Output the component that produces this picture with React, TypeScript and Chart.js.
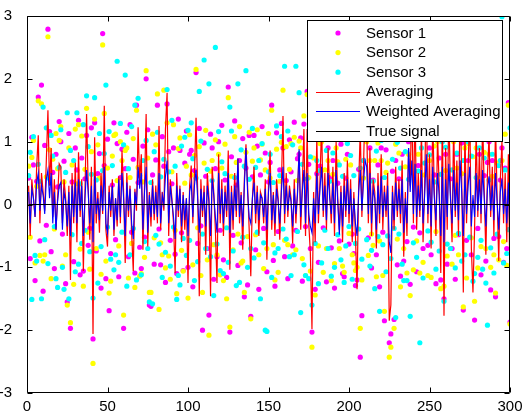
import React, { useEffect, useRef } from "react";
import { Chart, registerables } from "chart.js";

Chart.register(...registerables);

// ---- Data (one value per sample 1..300) ----
const SENSOR_1 = [
  0.42, -0.86, 1.07, 0.63, -1.21, 0.37, 1.71, -0.58, 1.9, -1.38, 0.94, -0.33, 2.79, 1.16, -0.75, 0.51, -1.02, 0.8, 0.28, 1.32,
  1.0, -0.47, 0.69, -1.26, -1.55, 1.13, -1.97, 0.36, -0.91, 0.9, 0.55, 1.34, -1.12, 0.74, -1.06, 0.41, 1.1, -0.65, -0.38, 1.22,
  -2.14, 1.3, -0.74, 0.49, 0.81, -1.33, 2.72, 0.62, -1.18, 1.04, -1.69, -0.78, 0.31, 1.3, -0.56, 0.97, -1.15, 0.43, 0.88, -1.97,
  0.57, 1.15, -0.83, 1.27, -0.44, 0.72, -1.09, 1.58, 0.35, -0.68, -1.02, 0.93, -0.52, 2.0, 1.19, -1.6, -1.62, 0.47, -0.95, 0.71,
  1.58, -0.39, -0.96, 1.08, 0.61, -1.24, 1.6, 0.84, -0.57, 0.33, 0.9, -0.79, -1.1, 1.36, 0.86, -0.45, -1.05, 0.66, 1.17, -1.0,
  0.8, 0.86, -1.31, 0.54, 2.1, -0.62, 1.21, -0.34, -2.0, 0.98, 0.45, -0.7, -1.76, 1.12, 0.9, -1.19, 0.57, -0.83, 1.0, -0.41,
  1.26, -0.88, 0.39, -1.16, 1.87, -2.03, 0.76, -0.49, 1.33, 0.31, -0.97, 0.7, -0.61, 1.05, -1.47, 0.58, -1.28, 1.1, -1.78, 0.44,
  1.1, -0.72, 0.93, -1.35, 0.47, 1.24, -0.38, 0.82, -1.07, 0.36, 0.67, 1.58, -0.89, -1.3, 1.14, -0.43, 0.55, 1.29, 0.9, -0.83,
  0.38, -1.18, 1.03, 0.52, -0.66, 1.31, -0.41, 0.73, 0.8, 1.06, -1.22, 1.28, -0.35, 1.8, 0.64, -0.7, -2.03, 1.17, -1.35, 0.49,
  -0.92, 0.61, 1.2, -0.37, 1.36, -1.23, 0.9, 0.43, -0.69, 0.7, -1.33, 1.1, 0.34, -0.58, 0.96, -1.1, -1.15, 0.42, 0.8, -0.63,
  1.09, -0.47, -0.78, -1.29, -1.2, 0.56, -2.43, -1.77, 0.7, 1.5, 1.2, -0.53, 0.9, -1.01, 0.39, 1.16, -0.8, 0.63, -1.31, 0.9,
  -0.44, -1.85, 0.87, 1.27, -2.2, -2.06, 0.53, -1.83, 0.7, -0.96, 0.41, -1.14, 0.8, -0.9, 1.23, -0.59, 1.0, -1.27, 1.6, -0.36,
  1.5, -1.07, 0.62, -0.45, 1.3, -0.7, 1.09, 1.8, -0.65, 0.9, -0.8, 1.3, 0.47, -1.26, 1.2, 0.74, -1.2, 1.4, -1.5, 0.8,
  -0.95, 1.5, 0.41, -0.7, 1.2, -1.19, 0.8, -0.48, 1.7, 0.98, -1.68, 1.1, -0.57, 0.7, 1.4, -0.8, 1.21, -1.84, 1.1, -0.38,
  0.8, -1.12, 1.3, 0.46, -0.9, 0.67, 1.0, -1.36, 0.7, -0.54, -1.47, 1.26, -0.51, 0.39, 0.9, -0.92, 0.58, -0.7, 1.62, -1.87,
];

const SENSOR_2 = [
  0.61, -0.52, 0.75, 1.02, -0.93, 0.29, 1.65, -0.81, 1.6, -0.9, -0.8, 0.44, 2.67, 0.87, -1.18, 0.72, -0.39, 1.13, 0.57, 1.02,
  1.24, -0.98, 0.36, -0.8, -1.6, 0.9, -1.88, 0.63, -1.27, 1.2, 0.33, 1.27, -0.71, 1.09, -1.3, 0.56, 1.53, -0.44, -1.03, 0.84,
  -2.53, 1.36, -0.7, 0.95, 0.42, -1.11, 2.54, 1.45, -0.9, 0.58, -1.41, -1.22, 0.77, 1.1, 1.12, 0.38, -0.66, 1.0, 0.7, -1.76,
  0.86, 0.9, -1.17, 0.43, -0.62, 1.05, -1.32, 1.5, 0.59, -1.14, -1.1, 0.36, -0.84, 2.13, 0.74, -1.4, -1.4, 1.12, -0.53, 0.95,
  1.76, -1.67, -0.61, -0.8, 1.82, -1.01, 1.3, -0.82, -1.19, 0.52, 1.27, -0.41, -1.42, 0.89, 1.06, -0.73, -1.06, 0.34, 0.61, -1.49,
  1.11, 0.47, -0.96, 0.78, 2.15, -0.37, 0.92, -1.13, -1.4, 0.66, 1.18, -0.88, -2.08, 0.53, 0.7, -0.64, 1.03, -0.8, 0.8, -1.12,
  0.58, -1.21, 0.96, -1.5, 1.7, -1.95, 0.45, -0.72, 1.08, 0.67, -0.47, 1.24, -0.93, -0.9, -1.4, 0.83, -0.51, 1.15, -1.82, 0.69,
  0.9, -0.48, 1.19, -0.8, 0.71, 0.96, -1.02, 0.55, -0.7, 1.13, 0.42, 1.5, -0.64, -1.2, 0.88, -1.08, 0.37, 0.99, 1.82, -0.57,
  0.92, -0.64, 0.56, 0.97, -0.8, 1.07, -0.72, 0.38, 1.01, 0.9, -0.86, 1.41, -1.13, 1.75, 0.43, -1.06, -2.27, 0.74, -1.44, 1.16,
  -0.66, 0.97, 1.0, -1.08, 0.55, -0.7, 0.7, 1.14, -1.21, 0.48, -0.94, 0.9, 0.68, -0.7, 1.25, -0.98, -1.08, 0.72, 1.09, -0.46,
  0.63, -0.8, -0.93, -1.05, -1.0, 1.19, -1.97, -1.2, 0.42, 1.3, 1.0, -0.81, 0.7, -0.47, -0.65, 0.7, -1.15, 0.98, -0.58, 0.7,
  -1.13, -1.7, 0.51, 0.66, -2.43, -2.27, 1.04, -1.97, 0.96, -0.55, 0.82, -1.31, 1.11, -0.7, 0.6, -1.09, 0.8, -1.45, 1.4, -1.04,
  1.3, -0.58, 0.8, -1.09, 1.1, -0.92, 0.47, 1.6, -1.13, 0.7, -1.16, 1.1, 0.93, -0.43, 1.0, 1.19, -1.34, 1.2, -1.3, 0.54,
  -0.82, 1.3, 1.06, -0.95, 1.0, -0.49, 0.58, -0.8, 1.5, 0.49, -1.63, 0.9, -1.17, 0.97, 1.2, -0.53, 0.76, -1.54, 0.9, -1.01,
  1.04, -0.67, 1.1, 0.83, -0.7, 1.18, 0.8, -1.0, 0.45, -0.8, -1.41, 0.66, -0.88, 0.7, 0.7, -0.59, 1.12, -0.97, 1.58, -1.9,
];

const SENSOR_3 = [
  0.46, 0.83, -1.51, 1.08, -0.81, -0.9, 0.64, 0.37, -1.5, 1.55, -0.56, 1.22, -0.94, 0.41, 1.1, 0.77, -0.35, -1.18, -1.32, 0.59,
  1.19, -1.0, -1.35, 0.51, 1.46, -1.5, 0.86, -0.48, 0.7, -1.07, 1.46, -0.95, 0.33, -0.62, 1.27, -0.41, 1.73, 0.92, -0.75, 0.48,
  -1.49, 1.7, 0.39, -1.25, 1.13, -0.67, 0.54, 0.81, 1.9, -0.36, 1.16, -0.87, 0.62, -1.04, -0.8, 2.28, -0.92, 1.29, -0.44, 0.95,
  2.06, -1.3, 0.57, -0.8, 1.24, -0.38, 1.58, -1.2, 1.69, 0.46, -1.12, 0.7, -0.59, 1.02, -0.7, -1.55, 0.35, -1.58, 0.84, -0.49,
  1.15, -0.63, 0.44, -1.16, 0.72, -0.76, 1.83, 0.52, -0.98, 1.34, -0.36, 0.61, -1.51, -1.13, -1.28, 0.93, -0.54, 1.07, -0.81, 1.18,
  -0.57, 1.3, 0.73, -1.21, 0.42, -0.91, 1.8, 1.01, -0.47, 2.3, -0.7, 0.56, 1.92, -0.83, 0.38, -1.45, 2.5, -0.63, 1.16, -1.05,
  0.68, -1.1, 0.49, -0.37, -0.92, 1.55, 1.17, -0.74, 0.43, -1.29, 1.92, -1.24, 0.87, -0.52, 0.61, 2.13, -1.0, 0.4, -0.7, 1.21,
  -0.85, 0.59, -0.44, 0.7, -1.5, 0.97, -0.61, -2.0, -2.02, 0.52, 0.8, -1.16, 0.35, -0.77, 1.25, -0.7, 0.46, 1.08, -0.39, 2.2,
  -0.55, 1.17, -0.83, -1.13, 0.95, -0.8, 2.2, -0.43, 1.78, -1.72, 0.64, -0.96, -1.13, 0.41, -1.18, 0.76, -1.6, 1.12, -0.62, 0.7,
  -1.26, 0.54, -0.93, 1.19, -0.41, 0.86, -0.7, 0.37, -1.14, 0.82, -1.0, 1.31, -0.48, 0.63, -0.88, 0.45, -1.24, -0.66, 0.97, -0.35,
  0.78, -1.19, 0.46, -0.62, 1.07, -0.39, 0.58, -0.87, 0.7, 1.4, -0.56, 1.23, -0.98, -0.73, 0.37, -1.34, 0.85, -0.51, -1.7, 1.02,
  -0.64, 0.43, -1.07, -0.5, 1.18, -0.86, 0.72, -0.38, -1.8, 0.99, -0.47, 0.58, -0.95, -1.21, 0.84, -1.21, 0.4, -1.78, 1.2, -0.61,
  1.1, -0.84, 0.53, -2.2, 0.9, -1.17, 0.66, 1.5, -0.42, 0.79, -0.6, 1.2, 0.36, -1.03, 1.3, -0.74, 0.48, 1.0, -1.54, 0.91,
  -0.63, 1.2, -0.7, 0.55, 1.1, -1.01, 0.82, -0.46, 1.3, -0.9, 0.7, -0.8, 1.16, 1.0, -0.52, 0.77, -1.22, -1.1, 0.43, -0.84,
  0.9, -0.57, -1.03, 0.74, -1.25, -1.92, 0.39, -0.69, 0.8, -1.09, 1.36, -0.47, 0.62, 0.7, 2.99, -0.93, 0.55, -0.78, -0.4, 1.22,
];

const AVERAGING = [
  0.3, -0.5, 0.4, 0.1, -0.2, 0.6, 1.1, -0.3, 0.5, 0.2, -0.1, 0.7, 1.5, 0.3, 0.9, -0.2, 0.4, -0.4, 0.1, 0.65,
  0.6, -0.3, 0.4, 0.1, -0.5, 0.3, -1.2, 0.5, -0.3, 0.67, -0.6, 0.83, -0.2, 0.4, -1.06, 0.2, 1.44, 0.3, -0.56, 0.6,
  -2.06, 1.07, -0.3, 0.2, -0.45, 0.5, -0.15, 1.57, -0.4, -0.67, 0.3, -0.2, 0.4, -0.5, 0.1, -0.35, 0.45, -0.3, 0.86, 0.2,
  -0.93, 0.5, -0.2, 0.3, -0.45, -1.06, 0.25, -0.1, 1.23, 0.35, 0.8, -0.72, 0.3, 1.44, -0.67, 0.2, -0.35, 0.4, -0.25, 0.3,
  -0.3, 1.25, -0.4, 0.2, -0.1, 1.2, 1.78, -0.5, 0.4, 0.1, -0.3, -1.09, 0.5, -0.2, 0.3, -0.6, 0.2, -0.4, 0.1, -1.25,
  0.3, 0.62, -0.3, 0.5, 1.38, 0.2, -1.46, 0.4, -0.2, 0.3, -0.8, 0.5, 0.1, -1.46, 0.6, 0.2, -0.4, -1.25, 0.8, -0.3,
  0.4, -0.5, 0.3, -0.2, 0.86, -1.04, 0.3, -0.4, 0.5, -0.2, 0.73, -0.3, 0.2, -0.72, 0.4, 0.96, 0.3, -0.4, -1.14, 0.1,
  0.6, -0.3, 0.3, -0.5, 0.2, 0.1, -0.3, 0.4, -0.88, 0.3, 0.86, -0.4, 0.2, -0.5, 0.4, 0.1, -0.56, 0.3, 1.41, -0.3,
  0.5, -0.2, 0.3, 0.1, -0.62, 0.4, -0.3, 0.2, 0.85, -0.4, 0.3, 1.2, -0.5, 1.2, -0.3, -0.77, -1.98, 0.2, -0.6, 1.1,
  -0.3, 0.4, 1.3, -0.2, 0.5, -0.4, 0.9, 0.2, -0.3, 0.6, -0.5, 1.0, 0.1, -0.4, 0.3, -0.6, 0.5, -0.2, 0.7, -0.3,
  0.4, -0.6, 0.2, -0.5, -1.35, 0.3, 1.2, -0.2, 0.6, 1.6, 1.3, -0.3, 0.9, -0.5, 0.4, 0.2, -0.7, 0.5, -0.3, 0.8,
  -0.4, 0.3, -0.2, 0.5, -1.85, -1.6, 0.3, -0.4, 0.6, -0.2, 0.4, -0.3, 0.7, -0.83, 0.2, -0.5, 0.9, 0.3, 1.8, -0.3,
  1.7, -0.4, 0.5, -0.2, 1.2, -0.6, 0.3, 1.9, -0.3, 0.8, -0.7, 1.4, 0.2, -0.5, 1.1, 0.3, -1.09, 1.5, -1.77, 0.9,
  -0.4, 1.6, 0.2, -0.6, 1.3, -0.2, 0.7, -0.5, 1.8, 0.4, -1.4, 1.2, -0.3, 0.6, 1.5, -0.7, -1.4, -0.4, 1.2, -0.2,
  0.9, -0.3, 1.4, 0.2, -0.8, 0.5, 1.1, -0.2, 0.6, -0.5, 1.3, 0.1, -0.9, 0.4, 1.0, -0.3, 0.5, -0.6, 0.8, -1.4,
];

const WEIGHTED_AVERAGING = [
  0.2, -0.3, 0.25, 0.1, -0.2, 0.35, 0.5, -0.1, 0.3, 0.15, -0.15, 0.4, 0.55, 0.1, 0.5, -0.3, 0.2, -0.4, 0.05, 0.3,
  0.35, -0.4, 0.2, 0.05, -0.35, 0.2, -0.5, 0.3, -0.2, 0.35, -0.3, 0.4, -0.1, 0.3, -0.5, 0.1, 0.55, 0.2, -0.3, 0.3,
  -0.6, 0.45, -0.15, 0.1, -0.25, 0.3, -0.1, 0.6, -0.3, -0.45, 0.2, -0.1, 0.3, -0.4, 0.1, -0.25, 0.4, -0.2, 0.5, 0.1,
  -0.5, 0.35, -0.1, 0.25, -0.3, -0.55, 0.2, 0.0, 0.6, 0.25, 0.5, -0.4, 0.2, 0.6, -0.45, 0.15, -0.2, 0.3, -0.15, 0.2,
  -0.2, 0.5, -0.3, 0.15, 0.0, 0.45, 0.7, -0.3, 0.3, 0.05, -0.2, -0.55, 0.3, -0.1, 0.25, -0.35, 0.15, -0.25, 0.1, -0.5,
  0.2, 0.35, -0.2, 0.3, 0.55, 0.1, -0.45, 0.25, -0.1, 0.2, -0.35, 0.3, 0.05, -0.5, 0.4, 0.15, -0.2, -0.45, 0.5, -0.15,
  0.25, -0.3, 0.2, -0.1, 0.5, -0.45, 0.2, -0.25, 0.3, -0.1, 0.73, -0.2, 0.15, -0.35, 0.3, 0.9, 0.2, -0.2, -0.3, 0.1,
  0.35, -0.15, 0.2, -0.25, 0.15, 0.1, -0.2, 0.25, -0.4, 0.2, 0.5, -0.25, 0.15, -0.3, 0.25, 0.05, -0.3, 0.2, 0.6, -0.15,
  0.3, -0.1, 0.2, 0.05, -0.35, 0.25, -0.15, 0.15, 0.88, -0.2, 0.2, 0.55, -0.3, 0.5, -0.15, -0.35, -0.45, 0.1, -0.3, 0.5,
  -0.15, 0.25, 0.6, -0.1, 0.3, -0.25, 0.5, 0.1, -0.15, 0.35, -0.3, 0.55, 0.05, -0.48, 0.2, -0.35, 0.3, -0.1, 0.4, -0.15,
  0.25, -0.35, 0.1, -0.3, -0.5, 0.2, 0.55, -0.1, 0.35, 0.7, 0.6, -0.15, 0.5, -0.3, 0.25, 0.1, -0.4, 0.3, -0.15, 0.45,
  -0.2, 0.2, -0.1, 0.3, -0.6, -0.77, 0.2, -0.25, 0.35, -0.1, 0.25, -0.15, 0.4, -0.45, 0.1, -0.3, 0.9, 0.2, 0.7, -0.15,
  0.65, -0.2, 0.3, -0.1, 0.55, -0.3, 0.15, 0.8, -0.15, 0.4, -0.35, 0.6, 0.1, -0.25, 0.5, 0.15, -0.5, 0.6, -0.6, 0.4,
  -0.2, 0.65, 0.1, -0.3, 0.55, -0.1, 0.35, -0.25, 0.7, 0.2, -0.5, 0.5, -0.15, 0.3, 0.6, -0.35, 0.15, -0.2, 0.5, -0.1,
  0.4, -0.15, 0.55, 0.1, -0.35, 0.25, 0.45, -0.1, 0.3, -0.25, 0.5, 0.05, -0.4, 0.2, 0.4, -0.15, 0.25, -0.3, 0.35, -0.5,
];

const TRUE_SIGNAL_X = [1, 300];
const TRUE_SIGNAL_Y = [0, 0];

const X_TICKS = [0, 50, 100, 150, 200, 250, 300];
const Y_TICKS = [-3, -2, -1, 0, 1, 2, 3];

const LEGEND_LABELS = ["Sensor 1", "Sensor 2", "Sensor 3", "Averaging", "Weighted Averaging", "True signal"];

const FONT = "'Liberation Sans', Arial, Helvetica, sans-serif";

const toPoints = (vals: number[]) => vals.map((v, i) => ({ x: i + 1, y: v }));

const matlabPlugin = {
  id: "matlabFrameLegend",
  afterDatasetsDraw(chart: any) {
    const { ctx, chartArea: a, scales } = chart;
    ctx.save();
    ctx.strokeStyle = "#000";
    ctx.lineWidth = 1;
    const L = Math.round(a.left) + 0.5;
    const R = Math.round(a.right) - 0.5;
    const T = Math.round(a.top) + 0.5;
    const B = Math.round(a.bottom) - 0.5;
    ctx.beginPath();
    ctx.rect(L, T, R - L, B - T);
    const tl = 5;
    X_TICKS.forEach((v) => {
      const px = Math.round(scales.x.getPixelForValue(v)) + 0.5;
      ctx.moveTo(px, B);
      ctx.lineTo(px, B - tl);
      ctx.moveTo(px, T);
      ctx.lineTo(px, T + tl);
    });
    Y_TICKS.forEach((v) => {
      const py = Math.round(scales.y.getPixelForValue(v)) + 0.5;
      ctx.moveTo(L, py);
      ctx.lineTo(L + tl, py);
      ctx.moveTo(R, py);
      ctx.lineTo(R - tl, py);
    });
    ctx.stroke();

    // Legend box
    const bx = 307.5, by = 20.5, bw = 195, bh = 121;
    ctx.fillStyle = "#fff";
    ctx.fillRect(bx, by, bw, bh);
    ctx.strokeRect(bx, by, bw, bh);
    const datasets = chart.data.datasets;
    ctx.font = `15px ${FONT}`;
    ctx.textBaseline = "middle";
    ctx.textAlign = "left";
    LEGEND_LABELS.forEach((label, i) => {
      const y = 33 + i * 19.6;
      const ds = datasets[i];
      if (i < 3) {
        ctx.beginPath();
        ctx.fillStyle = ds.pointBackgroundColor;
        ctx.arc(338, y, 2.6, 0, Math.PI * 2);
        ctx.fill();
      } else {
        ctx.beginPath();
        ctx.strokeStyle = ds.borderColor;
        ctx.lineWidth = 1;
        const yy = Math.round(y) + 0.5;
        ctx.moveTo(316, yy);
        ctx.lineTo(360, yy);
        ctx.stroke();
      }
      ctx.fillStyle = "#000";
      ctx.fillText(label, 366, y + 0.5);
    });
    ctx.restore();
  },
};

export default function App() {
  const ref = useRef<HTMLCanvasElement | null>(null);

  useEffect(() => {
    document.body.style.margin = "0";
    const canvas = ref.current;
    if (!canvas) return;
    const tickFont = { family: FONT, size: 15 };
    const chart = new Chart(canvas, {
      type: "scatter",
      data: {
        datasets: [
          {
            label: LEGEND_LABELS[0],
            data: toPoints(SENSOR_1),
            showLine: false,
            pointRadius: 2.6,
            pointBorderWidth: 0,
            pointBackgroundColor: "#ff00ff",
            backgroundColor: "#ff00ff",
            order: 6,
          },
          {
            label: LEGEND_LABELS[1],
            data: toPoints(SENSOR_2),
            showLine: false,
            pointRadius: 2.6,
            pointBorderWidth: 0,
            pointBackgroundColor: "#ffff00",
            backgroundColor: "#ffff00",
            order: 5,
          },
          {
            label: LEGEND_LABELS[2],
            data: toPoints(SENSOR_3),
            showLine: false,
            pointRadius: 2.6,
            pointBorderWidth: 0,
            pointBackgroundColor: "#00ffff",
            backgroundColor: "#00ffff",
            order: 4,
          },
          {
            label: LEGEND_LABELS[3],
            data: toPoints(AVERAGING),
            showLine: true,
            borderColor: "#ff0000",
            borderWidth: 1.2,
            pointRadius: 0,
            tension: 0,
            order: 3,
          },
          {
            label: LEGEND_LABELS[4],
            data: toPoints(WEIGHTED_AVERAGING),
            showLine: true,
            borderColor: "#0000ff",
            borderWidth: 1.1,
            pointRadius: 0,
            tension: 0,
            order: 2,
          },
          {
            label: LEGEND_LABELS[5],
            data: TRUE_SIGNAL_X.map((x, i) => ({ x, y: TRUE_SIGNAL_Y[i] })),
            showLine: true,
            borderColor: "#000000",
            borderWidth: 1,
            pointRadius: 0,
            tension: 0,
            order: 1,
          },
        ],
      },
      options: {
        animation: false,
        responsive: false,
        maintainAspectRatio: false,
        layout: { padding: { top: 12, right: 12, left: 0, bottom: 0 } },
        plugins: { legend: { display: false }, tooltip: { enabled: false } },
        scales: {
          x: {
            type: "linear",
            min: 0,
            max: 300,
            afterFit: (s: any) => {
              s.height = 23;
            },
            grid: { display: false },
            border: { display: false },
            ticks: {
              stepSize: 50,
              autoSkip: false,
              maxRotation: 0,
              color: "#000",
              font: tickFont,
              padding: -3,
            },
          },
          y: {
            type: "linear",
            min: -3,
            max: 3,
            afterFit: (s: any) => {
              s.width = 27;
            },
            grid: { display: false },
            border: { display: false },
            ticks: {
              stepSize: 1,
              autoSkip: false,
              color: "#000",
              font: tickFont,
              padding: 7,
            },
          },
        },
      },
      plugins: [matlabPlugin],
    } as any);
    return () => chart.destroy();
  }, []);

  return (
    <div style={{ position: "absolute", left: 0, top: 0, width: 522, height: 416, background: "#fff" }}>
      <canvas ref={ref} width={522} height={416} style={{ width: 522, height: 416, display: "block" }} />
    </div>
  );
}
